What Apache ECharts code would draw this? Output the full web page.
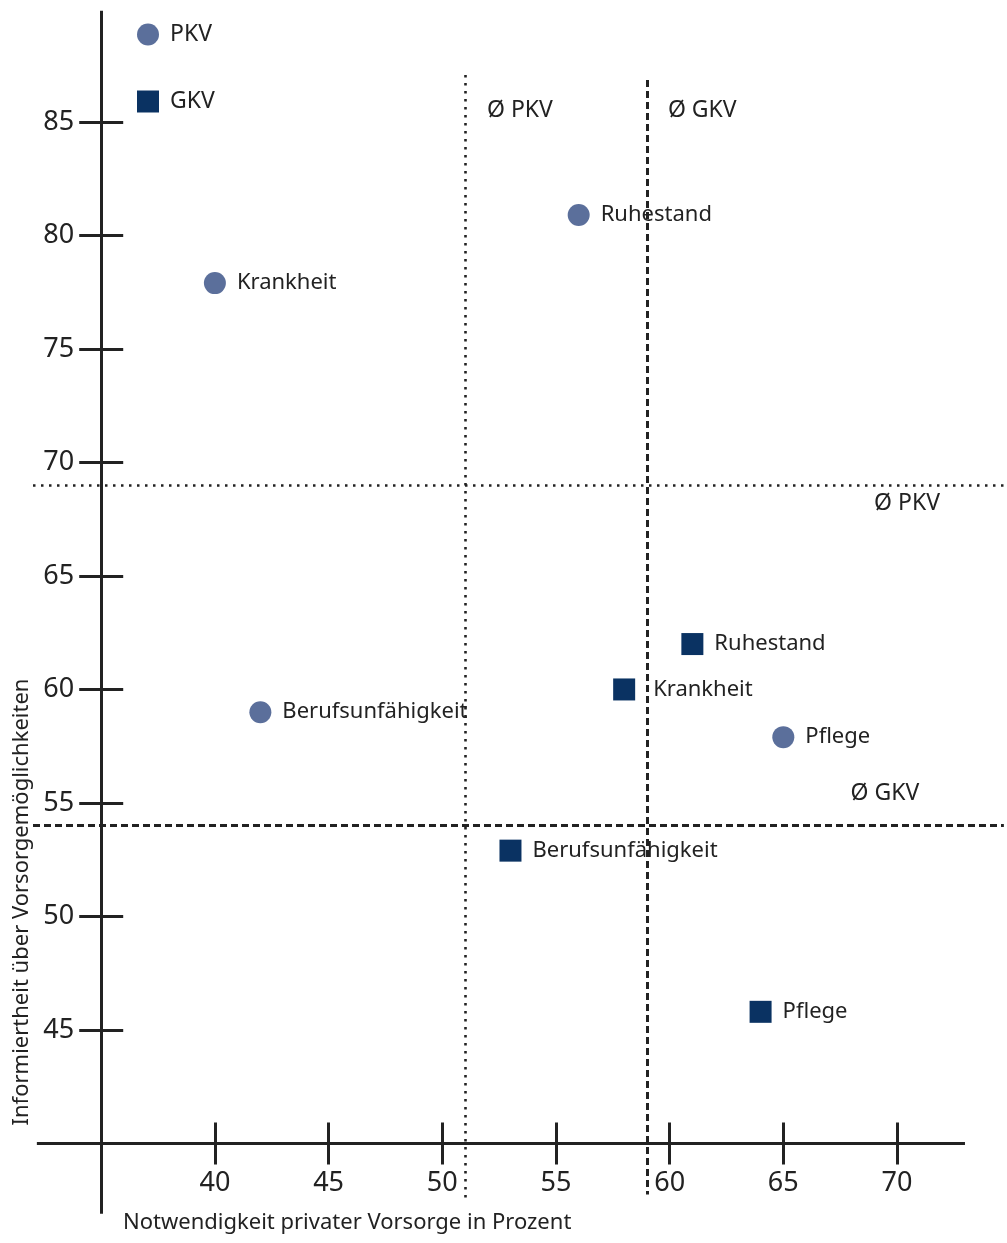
<!DOCTYPE html>
<html>
<head>
<meta charset="utf-8">
<script src="https://cdn.jsdelivr.net/npm/echarts@6/dist/echarts.min.js"></script>
<style>
  html, body { margin: 0; padding: 0; background: #fff; }
  #chart { width: 1007px; height: 1243px; }
</style>
</head>
<body>
<div id="chart"></div>
<script>
// values
const categories = ['Ruhestand', 'Krankheit', 'Berufsunfähigkeit', 'Pflege']
const pkvX = [56, 40, 42, 65]
const pkvY = [80.9, 77.9, 59, 57.9]
const gkvX = [61, 58, 53, 64]
const gkvY = [62, 60, 52.9, 45.8]
const avgX = [51, 59]   // Ø PKV, Ø GKV
const avgY = [69, 54]   // Ø PKV, Ø GKV
const xTicks = [40, 45, 50, 55, 60, 65, 70]
const yTicks = [45, 50, 55, 60, 65, 70, 75, 80, 85]

const FONT = 'Noto Sans'
const INK = '#222'
const X_MIN = 32, X_MAX = 74.75
const Y_MIN = 36.85, Y_MAX = 89.93
const GRID = { left: 33, right: 2, top: 10, bottom: 28 }
const W = 1007 - GRID.left - GRID.right
const H = 1243 - GRID.top - GRID.bottom
const pxX = W / (X_MAX - X_MIN)
const pxY = H / (Y_MAX - Y_MIN)
// axes cross at x=35 / y=40
const X_CROSS = 35, Y_CROSS = 40
const xOffset = -(Y_CROSS - Y_MIN) * pxY
const yOffset = -(X_CROSS - X_MIN) * pxX

let myChart = echarts.init(document.getElementById('chart'))

function points(xs, ys) {
  return categories.map((c, i) => ({ name: c, value: [xs[i], ys[i]] }))
}

let gkvData = points(gkvX, gkvY)
gkvData[1].label = { distance: 18 }

const tickStyle = { color: INK, width: 3 }
const dotted = { type: [2.5, 5.5], width: 2.6, color: INK }
const dashed = { type: [7, 4], width: 3, color: INK }
const solid = { type: 'solid', width: 3, color: INK }

function xAxisPart(inside, showLabel) {
  return {
    type: 'value', min: X_MIN, max: X_MAX, position: 'bottom', offset: xOffset,
    axisLine: { show: false },
    splitLine: { show: false },
    axisTick: { show: true, inside: inside, length: 21, customValues: xTicks, lineStyle: tickStyle },
    axisLabel: { show: showLabel, customValues: xTicks, margin: 26, fontSize: 27, color: INK, fontFamily: FONT }
  }
}
function yAxisPart(inside, showLabel) {
  return {
    type: 'value', min: Y_MIN, max: Y_MAX, position: 'left', offset: yOffset,
    axisLine: { show: false },
    splitLine: { show: false },
    axisTick: { show: true, inside: inside, length: 22, customValues: yTicks, lineStyle: tickStyle },
    axisLabel: { show: showLabel, customValues: yTicks, margin: 27, fontSize: 27, color: INK, fontFamily: FONT }
  }
}

const pointLabel = {
  show: true, position: 'right', distance: 11, formatter: '{b}',
  fontSize: 22, color: INK, fontFamily: FONT
}

myChart.setOption({
  animation: false,
  grid: GRID,
  legend: {
    data: ['PKV', 'GKV'],
    orient: 'vertical',
    left: 132, top: 18,
    itemWidth: 22, itemHeight: 22, itemGap: 44,
    textStyle: { fontSize: 23, color: INK, fontFamily: FONT, padding: [0, 0, 0, 6] }
  },
  xAxis: [xAxisPart(false, true), xAxisPart(true, false)],
  yAxis: [yAxisPart(false, true), yAxisPart(true, false)],
  graphic: [
    {
      type: 'text', x: 22, y: 902, rotation: Math.PI / 2,
      style: { text: 'Informiertheit über Vorsorgemöglichkeiten', fontSize: 22, fontFamily: FONT, fill: INK, align: 'center', verticalAlign: 'middle' }
    },
    {
      type: 'text', x: 123, y: 1223,
      style: { text: 'Notwendigkeit privater Vorsorge in Prozent', fontSize: 22, fontFamily: FONT, fill: INK, align: 'left', verticalAlign: 'middle' }
    }
  ],
  series: [
    {
      name: 'PKV', type: 'scatter', symbol: 'circle', symbolSize: 22,
      itemStyle: { color: '#5b6f9b', opacity: 1 },
      label: pointLabel,
      data: points(pkvX, pkvY)
    },
    {
      name: 'GKV', type: 'scatter', symbol: 'rect', symbolSize: 22,
      itemStyle: { color: '#0a3262', opacity: 1 },
      label: pointLabel,
      data: gkvData
    },
    {
      name: 'ref', type: 'scatter', data: [], silent: true,
      markLine: {
        silent: true, symbol: ['none', 'none'], label: { show: false },
        data: [
          [{ coord: [32.17, Y_CROSS], lineStyle: solid }, { coord: [72.99, Y_CROSS] }],
          [{ coord: [X_CROSS, 89.9], lineStyle: solid }, { coord: [X_CROSS, 36.9] }],
          [{ coord: [avgX[0], 87.07], lineStyle: dotted }, { coord: [avgX[0], 37.55] }],
          [{ coord: [avgX[1], 86.85], lineStyle: dashed }, { coord: [avgX[1], 37.75] }],
          [{ coord: [32.0, avgY[0]], lineStyle: dotted }, { coord: [74.7, avgY[0]] }],
          [{ coord: [32.0, avgY[1]], lineStyle: dashed }, { coord: [74.7, avgY[1]] }]
        ]
      },
      markPoint: {
        silent: true, symbol: 'circle', symbolSize: 0,
        label: { show: true, fontSize: 23, color: INK, fontFamily: FONT },
        data: [
          { coord: [avgX[0], 85.5], label: { formatter: 'Ø PKV', position: 'right', distance: 22 } },
          { coord: [avgX[1], 85.5], label: { formatter: 'Ø GKV', position: 'right', distance: 21 } },
          { coord: [70.44, avgY[0]], label: { formatter: 'Ø PKV', position: 'bottom', distance: 7 } },
          { coord: [69.47, avgY[1]], label: { formatter: 'Ø GKV', position: 'top', distance: 21 } }
        ]
      }
    }
  ]
})
</script>
</body>
</html>
